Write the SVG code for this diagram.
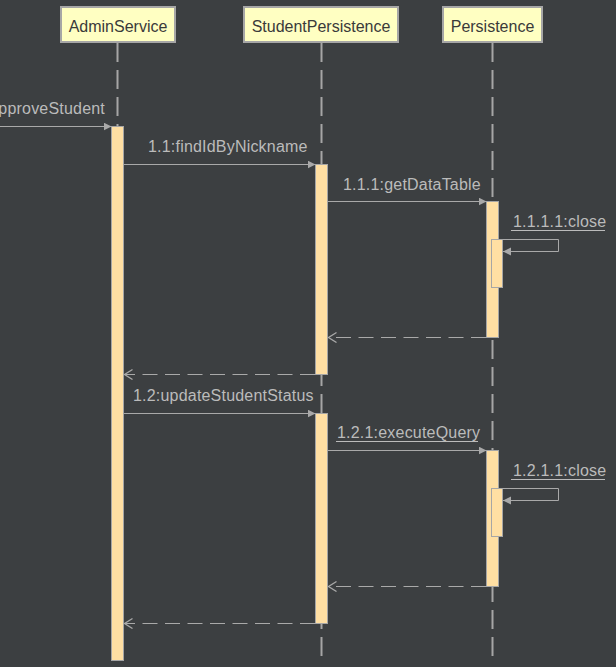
<svg xmlns="http://www.w3.org/2000/svg" width="616" height="667" viewBox="0 0 616 667">
  <style>
    .head { fill: #FFFFC2; stroke: #A6A6A6; stroke-width: 2; }
    .head-label { font-family: "Liberation Sans", Arial, sans-serif; font-size: 16px; fill: #3A3A3A; text-anchor: middle; }
    .life { stroke: #A6A6A6; stroke-width: 2; stroke-dasharray: 19 8; fill: none; }
    .act { fill: #FFDFA3; stroke: #A6A6A6; stroke-width: 1; }
    .msg { stroke: #A9A9A9; stroke-width: 1; fill: none; }
    .ret { stroke: #A9A9A9; stroke-width: 1.2; fill: none; stroke-dasharray: 15 7.5; }
    .lbl { font-family: "Liberation Sans", Arial, sans-serif; font-size: 16px; fill: #BBBBBB; letter-spacing: 0.2px; }
    .ul { stroke: #BBBBBB; stroke-width: 1; }
  </style>
  <defs>
    <marker id="solid" markerUnits="userSpaceOnUse" markerWidth="10" markerHeight="10" refX="8" refY="4" orient="auto">
      <path d="M0,0 L8,4 L0,8 z" fill="#A9A9A9"/>
    </marker>
    <marker id="open" markerUnits="userSpaceOnUse" markerWidth="12" markerHeight="12" refX="9" refY="5" orient="auto">
      <path d="M1,0 L9,5 L1,10" fill="none" stroke="#A9A9A9" stroke-width="1.3"/>
    </marker>
  </defs>

  <rect width="616" height="667" fill="#3C3F41"/>

  <!-- participant: AdminService -->
  <g id="AdminService">
    <rect class="head" x="61" y="7" width="114" height="35"/>
    <text class="head-label" x="118" y="31.5">AdminService</text>
    <line class="life" x1="117.5" y1="43" x2="117.5" y2="660"/>
    <rect class="act" x="111.5" y="126.5" width="12" height="534"/>
  </g>

  <!-- participant: StudentPersistence -->
  <g id="StudentPersistence">
    <rect class="head" x="244" y="7" width="154" height="35"/>
    <text class="head-label" x="321" y="31.5">StudentPersistence</text>
    <line class="life" x1="321.5" y1="43" x2="321.5" y2="660"/>
    <rect class="act" x="315.5" y="164.5" width="12" height="210"/>
    <rect class="act" x="315.5" y="413.5" width="12" height="210"/>
  </g>

  <!-- participant: Persistence -->
  <g id="Persistence">
    <rect class="head" x="443" y="7" width="99" height="35"/>
    <text class="head-label" x="492.5" y="31.5">Persistence</text>
    <line class="life" x1="492.5" y1="43" x2="492.5" y2="660"/>
    <rect class="act" x="486.5" y="201.5" width="12" height="136"/>
    <rect class="act" x="491.5" y="239.5" width="11" height="48"/>
    <rect class="act" x="486.5" y="450.5" width="12" height="136"/>
    <rect class="act" x="491.5" y="488.5" width="11" height="48"/>
  </g>

  <!-- messages -->
  <g id="connectors">
    <line class="msg" x1="0" y1="126.5" x2="111.5" y2="126.5" marker-end="url(#solid)"/>
    <text class="lbl" x="105" y="114" text-anchor="end">approveStudent</text>

    <line class="msg" x1="124" y1="164.5" x2="315.5" y2="164.5" marker-end="url(#solid)"/>
    <text class="lbl" x="148" y="152">1.1:findIdByNickname</text>

    <line class="msg" x1="328" y1="201.5" x2="486.5" y2="201.5" marker-end="url(#solid)"/>
    <text class="lbl" x="343" y="190">1.1.1:getDataTable</text>

    <path class="msg" d="M503,239.5 H558.5 V251.5 H503" marker-end="url(#solid)"/>
    <text class="lbl" x="513" y="227">1.1.1.1:close</text>
    <line class="ul" x1="511" y1="230.5" x2="605" y2="230.5"/>

    <line class="ret" x1="486" y1="337.5" x2="328.5" y2="337.5" marker-end="url(#open)"/>
    <line class="ret" x1="315" y1="374.5" x2="124.5" y2="374.5" marker-end="url(#open)"/>

    <line class="msg" x1="124" y1="413.5" x2="315.5" y2="413.5" marker-end="url(#solid)"/>
    <text class="lbl" x="133" y="401">1.2:updateStudentStatus</text>

    <line class="msg" x1="328" y1="450.5" x2="486.5" y2="450.5" marker-end="url(#solid)"/>
    <text class="lbl" x="337" y="438">1.2.1:executeQuery</text>
    <line class="ul" x1="336" y1="441.5" x2="478" y2="441.5"/>

    <path class="msg" d="M503,488.5 H558.5 V500.5 H503" marker-end="url(#solid)"/>
    <text class="lbl" x="513" y="476">1.2.1.1:close</text>
    <line class="ul" x1="511" y1="479.5" x2="605" y2="479.5"/>

    <line class="ret" x1="486" y1="586.5" x2="328.5" y2="586.5" marker-end="url(#open)"/>
    <line class="ret" x1="315" y1="623.5" x2="124.5" y2="623.5" marker-end="url(#open)"/>
  </g>
</svg>
